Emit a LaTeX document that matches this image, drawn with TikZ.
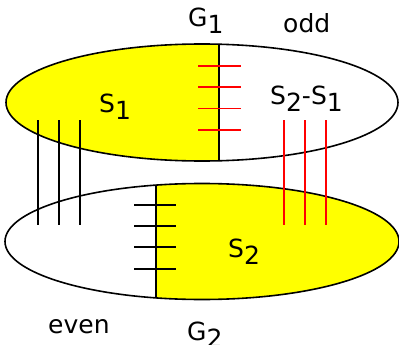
\documentclass[tikz,border=0pt]{standalone}
\usepackage{fontspec}
\setmainfont{DejaVu Sans}
\usetikzlibrary{shapes.geometric}
\definecolor{pureyellow}{RGB}{255,255,0}
\definecolor{purered}{RGB}{255,0,0}
\newcommand\lowsub[1]{\raisebox{-7pt}{#1}}
\begin{document}
\begin{tikzpicture}[x=1pt,y=-1pt,
  outline/.style={line width=1.6pt,black},
  tick/.style={line width=1.6pt},
  lbl/.style={inner sep=0pt,anchor=base west,font=\fontsize{25}{30}\selectfont}]
\useasboundingbox (0,0) rectangle (399,345);
% top ellipse
\begin{scope}
  \clip (202,102.5) ellipse [x radius=196pt, y radius=58.5pt];
  \fill[pureyellow] (0,0) rectangle (219,170);
\end{scope}
\node[ellipse,draw,outline,inner sep=0pt,minimum width=392pt,minimum height=117pt] (top) at (202,102.5) {};
\coordinate (t1) at (219,44.2);
\coordinate (t2) at (219,160.8);
\draw[outline] (t1) -- (t2);
% bottom ellipse
\begin{scope}
  \clip (202,241.5) ellipse [x radius=197pt, y radius=58pt];
  \fill[pureyellow] (156,170) rectangle (399,310);
\end{scope}
\node[ellipse,draw,outline,inner sep=0pt,minimum width=394pt,minimum height=116pt] (bot) at (202,241.5) {};
\coordinate (b1) at (156,185.1);
\coordinate (b2) at (156,297.9);
\draw[outline] (b1) -- (b2);
% red ticks top
\foreach \y in {66,87,108.5,130} \draw[tick,purered] (198,\y) -- (241,\y);
% black ticks bottom
\foreach \y in {205,226,247,269} \draw[tick,black] (134,\y) -- (176,\y);
% vertical lines
\foreach \x in {38,59,80} \draw[tick,black] (\x,120) -- (\x,225);
\foreach \x in {284,305,326} \draw[tick,purered] (\x,120) -- (\x,225);
% labels
\node[lbl] (g1) at (188,26.7) {G\lowsub{1}};
\node[lbl] (odd) at (283,33) {odd};
\node[lbl] (s1) at (99,112) {S\lowsub{1}};
\node[lbl] (s21) at (270,104) {S\lowsub{2}-S\lowsub{1}};
\node[lbl] (s2) at (228,257) {S\lowsub{2}};
\node[lbl] (even) at (48,333) {even};
\node[lbl] (g2) at (187,340) {G\lowsub{2}};
\end{tikzpicture}
\end{document}
